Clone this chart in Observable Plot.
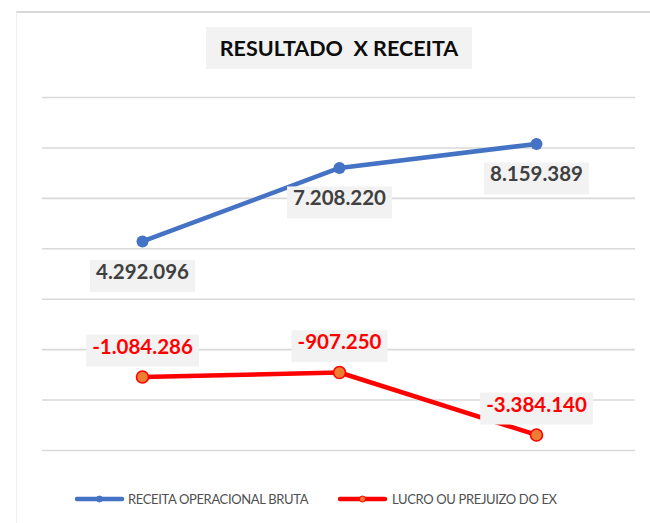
<!DOCTYPE html>
<html>
<head>
<meta charset="utf-8">
<script src="https://cdn.jsdelivr.net/npm/d3@7"></script>
<script src="https://cdn.jsdelivr.net/npm/@observablehq/plot@0.6"></script>
<style>
  html, body { margin: 0; padding: 0; background: #fff; }
  #wrap { position: relative; width: 650px; height: 523px; overflow: hidden; font-family: Lato, "Open Sans", sans-serif; }
  #frame { position: absolute; left: 16px; top: 11px; width: 640px; height: 520px; border-top: 2px solid #d9d9d9; border-left: 1px solid #f0f0f0; box-sizing: border-box; }
  #title { position: absolute; left: 206px; top: 27px; width: 266px; height: 42px; background: #f2f2f2; font-weight: 700; font-size: 21.5px; color: #0d0d0d; text-align: center; line-height: 42px; white-space: pre; }
  #chart { position: absolute; left: 0; top: 0; }
  .leg { position: absolute; top: 489px; height: 20px; font-size: 13px; letter-spacing: -0.35px; color: #505050; white-space: nowrap; line-height: 20px; }
  .leg svg { position: absolute; left: 0; top: 0; }
</style>
</head>
<body>
<div id="wrap">
  <div id="frame"></div>
  <div id="chart"></div>
  <div id="title"></div>
  <div id="legend"></div>
</div>
<script>
const titleText = "RESULTADO  X RECEITA";
const categories = ["Período 1", "Período 2", "Período 3"];
const seriesNames = ["RECEITA OPERACIONAL BRUTA", "LUCRO OU PREJUIZO DO EX"];
const receita = [4292096, 7208220, 8159389];
const lucro = [-1084286, -907250, -3384140];
const yTicks = [-4000000, -2000000, 0, 2000000, 4000000, 6000000, 8000000, 10000000];

const blue = "#4472c4";
const red = "#ff0000";
const orange = "#ed7d31";

const fmt = v => (v < 0 ? "-" : "") + d3.format(",")(Math.abs(v)).replace(/,/g, ".");

const recData = categories.map((c, i) => ({cat: c, value: receita[i]}));
const lucData = categories.map((c, i) => ({cat: c, value: lucro[i]}));

document.getElementById("title").textContent = titleText;

const chart = Plot.plot({
  width: 650,
  height: 523,
  marginTop: 97,
  marginBottom: 73,
  marginLeft: 42,
  marginRight: 15,
  x: {type: "point", domain: categories, padding: 0.5, axis: null},
  y: {domain: [-4000000, 10000000], axis: null},
  marks: [
    Plot.ruleY(yTicks, {stroke: "#d9d9d9", strokeWidth: 1.6}),
    Plot.line(recData, {x: "cat", y: "value", stroke: blue, strokeWidth: 4.5, strokeLinejoin: "round", strokeLinecap: "round"}),
    Plot.dot(recData, {x: "cat", y: "value", r: 6, fill: blue}),
    Plot.line(lucData, {x: "cat", y: "value", stroke: red, strokeWidth: 4.5, strokeLinejoin: "round", strokeLinecap: "round"}),
    Plot.dot(lucData, {x: "cat", y: "value", r: 6, fill: orange, stroke: red, strokeWidth: 1.6}),
    Plot.text(recData, {x: "cat", y: "value", text: d => fmt(d.value), dy: 31, fill: "#404040", fontSize: 20.5, fontWeight: 700, className: "lbl"}),
    Plot.text(lucData, {x: "cat", y: "value", text: d => fmt(d.value), dy: -30, fill: red, fontSize: 20.5, fontWeight: 700, className: "lbl"})
  ],
  style: {fontFamily: "Lato, 'Open Sans', sans-serif", background: "transparent", overflow: "visible"}
});
document.getElementById("chart").appendChild(chart);

// label backgrounds
chart.querySelectorAll("g.lbl text").forEach(t => {
  const b = t.getBBox();
  const r = document.createElementNS("http://www.w3.org/2000/svg", "rect");
  r.setAttribute("x", b.x - 6);
  r.setAttribute("y", b.y + 1);
  r.setAttribute("width", b.width + 12);
  r.setAttribute("height", b.height + 8);
  r.setAttribute("fill", "#f2f2f2");
  const tr = t.getAttribute("transform");
  if (tr) r.setAttribute("transform", tr);
  t.parentNode.insertBefore(r, t);
});

// legend
const legend = document.getElementById("legend");
const legItems = [
  {name: seriesNames[0], left: 75, textLeft: 128, color: blue, dot: blue, dotStroke: blue},
  {name: seriesNames[1], left: 338, textLeft: 392, color: red, dot: orange, dotStroke: red}
];
legItems.forEach(it => {
  const sw = document.createElement("div");
  sw.className = "leg";
  sw.style.left = it.left + "px";
  sw.innerHTML = `<svg width="50" height="20"><line x1="2" x2="47" y1="10" y2="10" stroke="${it.color}" stroke-width="4.5" stroke-linecap="round"/><circle cx="24.5" cy="10" r="3" fill="${it.dot}" stroke="${it.dotStroke}" stroke-width="1"/></svg>`;
  legend.appendChild(sw);
  const tx = document.createElement("div");
  tx.className = "leg";
  tx.style.left = it.textLeft + "px";
  tx.textContent = it.name;
  legend.appendChild(tx);
});
</script>
</body>
</html>
